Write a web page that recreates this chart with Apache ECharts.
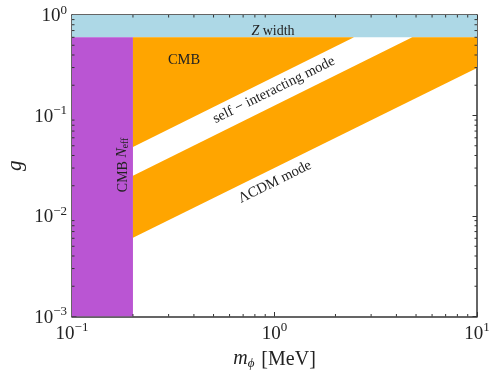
<!DOCTYPE html>
<html>
<head>
<meta charset="utf-8">
<script src="https://cdn.jsdelivr.net/npm/echarts@6/dist/echarts.min.js"></script>
<style>
    html, body { margin: 0; padding: 0; background: #fff; }
    #chart { width: 498px; height: 373px; }
</style>
</head>
<body>
<div id="chart"></div>
<script>
    // axes (m_phi in MeV, coupling g)
    const massRange = [0.1, 10];
    const couplingRange = [0.001, 1];
    const massMinorTicks = [0.2, 0.3, 0.4, 0.5, 0.6, 0.7, 0.8, 0.9, 2, 3, 4, 5, 6, 7, 8, 9];
    const couplingMinorTicks = [0.002, 0.003, 0.004, 0.005, 0.006, 0.007, 0.008, 0.009,
        0.02, 0.03, 0.04, 0.05, 0.06, 0.07, 0.08, 0.09, 0.2, 0.3, 0.4, 0.5, 0.6, 0.7, 0.8, 0.9];

    // excluded / allowed regions, vertices as [m_phi, g]
    const zWidthRegion = [[0.1, 0.6], [10, 0.6], [10, 1], [0.1, 1]];
    const cmbNeffRegion = [[0.1, 0.001], [0.2, 0.001], [0.2, 0.6], [0.1, 0.6]];
    const cmbRegion = [[0.2, 0.0486], [2.47, 0.6], [0.2, 0.6]];
    const lcdmRegion = [[0.2, 0.00608], [10, 0.297], [10, 0.6], [4.79, 0.6], [0.2, 0.0252]];

    const FONT = 'Liberation Serif';
    const AXIS_COLOR = '#333';

    const chart = echarts.init(document.getElementById('chart'));

    function powerLabel(value) {
        const e = Math.round(Math.log10(value));
        return '{b|10}{s|' + (e < 0 ? '\u2212' + (-e) : e) + '}';
    }
    const powerRich = {
        b: { fontFamily: FONT, fontSize: 19, color: '#222', verticalAlign: 'bottom', lineHeight: 22 },
        s: { fontFamily: FONT, fontSize: 13, color: '#222', verticalAlign: 'bottom', lineHeight: 22, padding: [0, 0, 9, 0] }
    };

    function region(points, color) {
        return {
            type: 'custom',
            silent: true,
            clip: true,
            data: points,
            renderItem(params, api) {
                if (params.dataIndex !== 0) return;
                return {
                    type: 'polygon',
                    shape: { points: points.map(p => api.coord(p)) },
                    style: { fill: color }
                };
            }
        };
    }

    // minor ticks on all four sides
    const minorX = {
        type: 'custom', silent: true, z: 10,
        data: massMinorTicks.map(v => [v, couplingRange[0]]),
        renderItem(params, api) {
            const b = api.coord([api.value(0), couplingRange[0]]);
            const t = api.coord([api.value(0), couplingRange[1]]);
            const st = { stroke: AXIS_COLOR, lineWidth: 1 };
            return { type: 'group', children: [
                { type: 'line', shape: { x1: b[0], y1: b[1], x2: b[0], y2: b[1] - 2.5 }, style: st },
                { type: 'line', shape: { x1: t[0], y1: t[1], x2: t[0], y2: t[1] + 2.5 }, style: st }
            ] };
        }
    };
    const minorY = {
        type: 'custom', silent: true, z: 10,
        data: couplingMinorTicks.map(v => [massRange[0], v]),
        renderItem(params, api) {
            const l = api.coord([massRange[0], api.value(1)]);
            const r = api.coord([massRange[1], api.value(1)]);
            const st = { stroke: AXIS_COLOR, lineWidth: 1 };
            return { type: 'group', children: [
                { type: 'line', shape: { x1: l[0], y1: l[1], x2: l[0] + 2.5, y2: l[1] }, style: st },
                { type: 'line', shape: { x1: r[0], y1: r[1], x2: r[0] - 2.5, y2: r[1] }, style: st }
            ] };
        }
    };

    const baseAxis = {
        type: 'log',
        logBase: 10,
        splitLine: { show: false },
        axisLine: { onZero: false, lineStyle: { color: AXIS_COLOR, width: 1.5 } },
        axisTick: { inside: true, length: 4.5, lineStyle: { color: AXIS_COLOR, width: 1 } }
    };

    const option = {
        animation: false,
        grid: { left: 72, right: 21, top: 15, bottom: 56.5, containLabel: false, outerBoundsMode: 'none' },
        xAxis: [
            Object.assign({}, baseAxis, {
                min: massRange[0], max: massRange[1], position: 'bottom',
                axisLabel: { margin: 5, formatter: powerLabel, rich: powerRich },
                name: '{i|m}{sub|\u03d5} [MeV]',
                nameLocation: 'middle',
                nameGap: 25,
                nameTextStyle: {
                    rich: {
                        i: { fontFamily: FONT, fontStyle: 'italic', fontSize: 20, color: '#222', verticalAlign: 'top', lineHeight: 22 },
                        sub: { fontFamily: FONT, fontStyle: 'italic', fontSize: 13, color: '#222', verticalAlign: 'top', lineHeight: 22, padding: [9, 2, 0, 0] }
                    },
                    fontFamily: FONT, fontSize: 20, color: '#222'
                }
            }),
            Object.assign({}, baseAxis, {
                min: massRange[0], max: massRange[1], position: 'top',
                axisLabel: { show: false }
            })
        ],
        yAxis: [
            Object.assign({}, baseAxis, {
                min: couplingRange[0], max: couplingRange[1], position: 'left',
                axisLabel: { margin: 5, formatter: powerLabel, rich: powerRich },
                name: 'g',
                nameLocation: 'middle',
                nameGap: 46,
                nameMoveOverlap: false,
                nameRotate: 90,
                nameTextStyle: { fontFamily: FONT, fontStyle: 'italic', fontSize: 21, color: '#222' }
            }),
            Object.assign({}, baseAxis, {
                min: couplingRange[0], max: couplingRange[1], position: 'right',
                axisLabel: { show: false }
            })
        ],
        series: [
            region(zWidthRegion, '#add8e6'),
            region(cmbNeffRegion, '#ba55d3'),
            region(cmbRegion, '#ffa500'),
            region(lcdmRegion, '#ffa500'),
            minorX,
            minorY
        ],
        graphic: [
            {
                type: 'text', x: 273, y: 31, z: 20,
                style: {
                    text: '{i|Z} width', align: 'center', verticalAlign: 'middle',
                    fontFamily: FONT, fontSize: 14, fill: '#222',
                    rich: { i: { fontFamily: FONT, fontStyle: 'italic', fontSize: 14 } }
                }
            },
            {
                type: 'text', x: 184, y: 60, z: 20,
                style: { text: 'CMB', align: 'center', verticalAlign: 'middle', fontFamily: FONT, fontSize: 14.5, fill: '#222' }
            },
            {
                type: 'text', x: 274, y: 90, z: 20, rotation: 0.46,
                style: { text: 'self \u2212 interacting mode', align: 'center', verticalAlign: 'middle', fontFamily: FONT, fontSize: 14.5, fill: '#222' }
            },
            {
                type: 'text', x: 275, y: 182, z: 20, rotation: 0.46,
                style: { text: '\u039bCDM mode', align: 'center', verticalAlign: 'middle', fontFamily: FONT, fontSize: 14.5, fill: '#222' }
            },
            {
                type: 'text', x: 123, y: 165, z: 20, rotation: Math.PI / 2,
                style: {
                    text: 'CMB {i|N}{sub|eff}', align: 'center', verticalAlign: 'middle',
                    fontFamily: FONT, fontSize: 14, fill: '#222',
                    rich: {
                        i: { fontFamily: FONT, fontStyle: 'italic', fontSize: 14, verticalAlign: 'top', lineHeight: 16 },
                        sub: { fontFamily: FONT, fontSize: 9.5, verticalAlign: 'top', lineHeight: 16, padding: [5, 0, 0, 0] }
                    }
                }
            }
        ]
    };

    chart.setOption(option);
</script>
</body>
</html>
